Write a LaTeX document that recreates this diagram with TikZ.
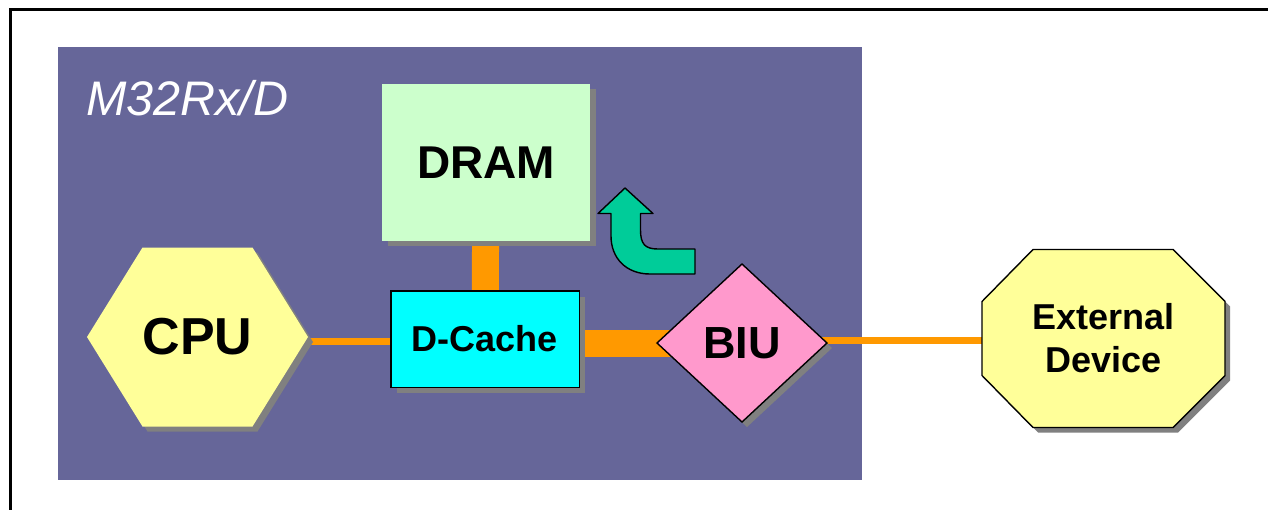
\documentclass[tikz,border=0pt]{standalone}
\usepackage{fontspec}
\setmainfont{Liberation Sans}
\usetikzlibrary{calc}
\pgfdeclarelayer{chip}
\pgfdeclarelayer{wires}
\pgfdeclarelayer{blocks}
\pgfsetlayers{chip,wires,blocks,main}

\definecolor{chipblue}{HTML}{666699}
\definecolor{dramgreen}{HTML}{CCFFCC}
\definecolor{cachecyan}{HTML}{00FFFF}
\definecolor{biupink}{HTML}{FF99CC}
\definecolor{unityellow}{HTML}{FFFF99}
\definecolor{arrowgreen}{HTML}{00CC99}
\definecolor{busorange}{HTML}{FF9900}
\definecolor{shadegray}{HTML}{808080}

\tikzset{
  x=1pt, y=-1pt,
  holder/.style={rectangle, draw=none, inner sep=0pt, align=center},
  bigbold/.style={font=\fontsize{#1}{43}\selectfont\bfseries},
  outline/.style={draw=black, line width=1.4pt, line join=miter},
  shadowfill/.style={fill=shadegray},
  thinbus/.style={draw=busorange, line width=7pt},
  widebus/.style={draw=busorange, line width=27pt},
}

\begin{document}
\begin{tikzpicture}
\useasboundingbox (0,0) rectangle (1268,509);

% page and chip area
\begin{pgfonlayer}{chip}
  \fill[white] (0,0) rectangle (1268,509);
  \fill[chipblue] (58,47) rectangle (862,480);
\end{pgfonlayer}

% outer frame, open towards the right and bottom
\draw[line width=3.5pt, line join=miter] (1280,9.5) -- (10.3,9.5) -- (10.3,520);

\node[anchor=base west, text=white, inner sep=0pt,
      font=\fontsize{48.5}{56}\selectfont\itshape] (chipname) at (86,115) {M32Rx/D};

% functional blocks (text holders; outlines drawn below)
\node[holder, minimum width=208pt, minimum height=157pt, bigbold=46] (dram) at (486,162.5) {DRAM};
\node[holder, minimum width=188pt, minimum height=96pt, bigbold=36] (dcache) at (485,339) {D-Cache};
\node[holder, minimum width=221pt, minimum height=179pt, bigbold=52] (cpu) at (197.5,337) {CPU};
\node[holder, minimum width=170pt, minimum height=158pt, bigbold=45] (biu) at (742,343) {BIU};
\node[holder, minimum width=243pt, minimum height=178pt, bigbold=36] (ext) at (1103.5,338.5) {External\\Device};

% buses (they run on under the blocks, which cover their ends)
\begin{pgfonlayer}{wires}
  \draw[widebus] (dram.center) -- (dcache.center);
  \draw[widebus] ([yshift=-4pt]dcache.center) -- ([yshift=-4pt]dcache.center -| biu.center);
  \draw[thinbus] ([yshift=-2.5pt]dcache.center) -- ([yshift=-2.5pt]dcache.center -| cpu.center);
  \draw[thinbus] ([yshift=3pt]biu.center) -- ([yshift=3pt]biu.center -| ext.center);
\end{pgfonlayer}

\begin{pgfonlayer}{blocks}
  % DRAM
  \fill[shadowfill] ([shift={(6,5)}]dram.north west) rectangle ([shift={(6,5)}]dram.south east);
  \fill[dramgreen] (dram.north west) rectangle (dram.south east);
  % D-Cache
  \fill[shadowfill] ([shift={(6,6)}]dcache.north west) rectangle ([shift={(6,6)}]dcache.south east);
  \draw[outline, fill=cachecyan] (dcache.north west) rectangle (dcache.south east);
  % CPU hexagon
  \begin{scope}[shift={(cpu.center)}]
    \fill[shadowfill, shift={(5,5)}] (-110.5,0) -- (-55,-89.5) -- (55,-89.5) -- (110.5,0) -- (55,89.5) -- (-55,89.5) -- cycle;
    \fill[unityellow] (-110.5,0) -- (-55,-89.5) -- (55,-89.5) -- (110.5,0) -- (55,89.5) -- (-55,89.5) -- cycle;
  \end{scope}
  % BIU diamond
  \begin{scope}[shift={(biu.center)}]
    \fill[shadowfill, shift={(5,5)}] (-85,0) -- (0,-79) -- (85,0) -- (0,79) -- cycle;
    \draw[outline, fill=biupink] (-85,0) -- (0,-79) -- (85,0) -- (0,79) -- cycle;
  \end{scope}
  % external device octagon
  \begin{scope}[shift={(ext.center)}]
    \fill[shadowfill, shift={(5,5)}] (-70.5,-89) -- (69.5,-89) -- (121.5,-37) -- (121.5,37) -- (69.5,89) -- (-70.5,89) -- (-121.5,37) -- (-121.5,-37) -- cycle;
    \draw[outline, fill=unityellow] (-70.5,-89) -- (69.5,-89) -- (121.5,-37) -- (121.5,37) -- (69.5,89) -- (-70.5,89) -- (-121.5,37) -- (-121.5,-37) -- cycle;
  \end{scope}
  % U-turn arrow from BIU towards DRAM
  \draw[outline, fill=arrowgreen, line join=round]
    (625,188) -- (653,213.5) -- (640.5,213.5) -- (640.5,230)
    .. controls (640.5,244) and (645,249) .. (658,249)
    -- (695,249) -- (695,274) -- (650,274)
    .. controls (626,274) and (611,258) .. (611,236)
    -- (611,213.5) -- (598,213.5) -- cycle;
\end{pgfonlayer}
\end{tikzpicture}
\end{document}
